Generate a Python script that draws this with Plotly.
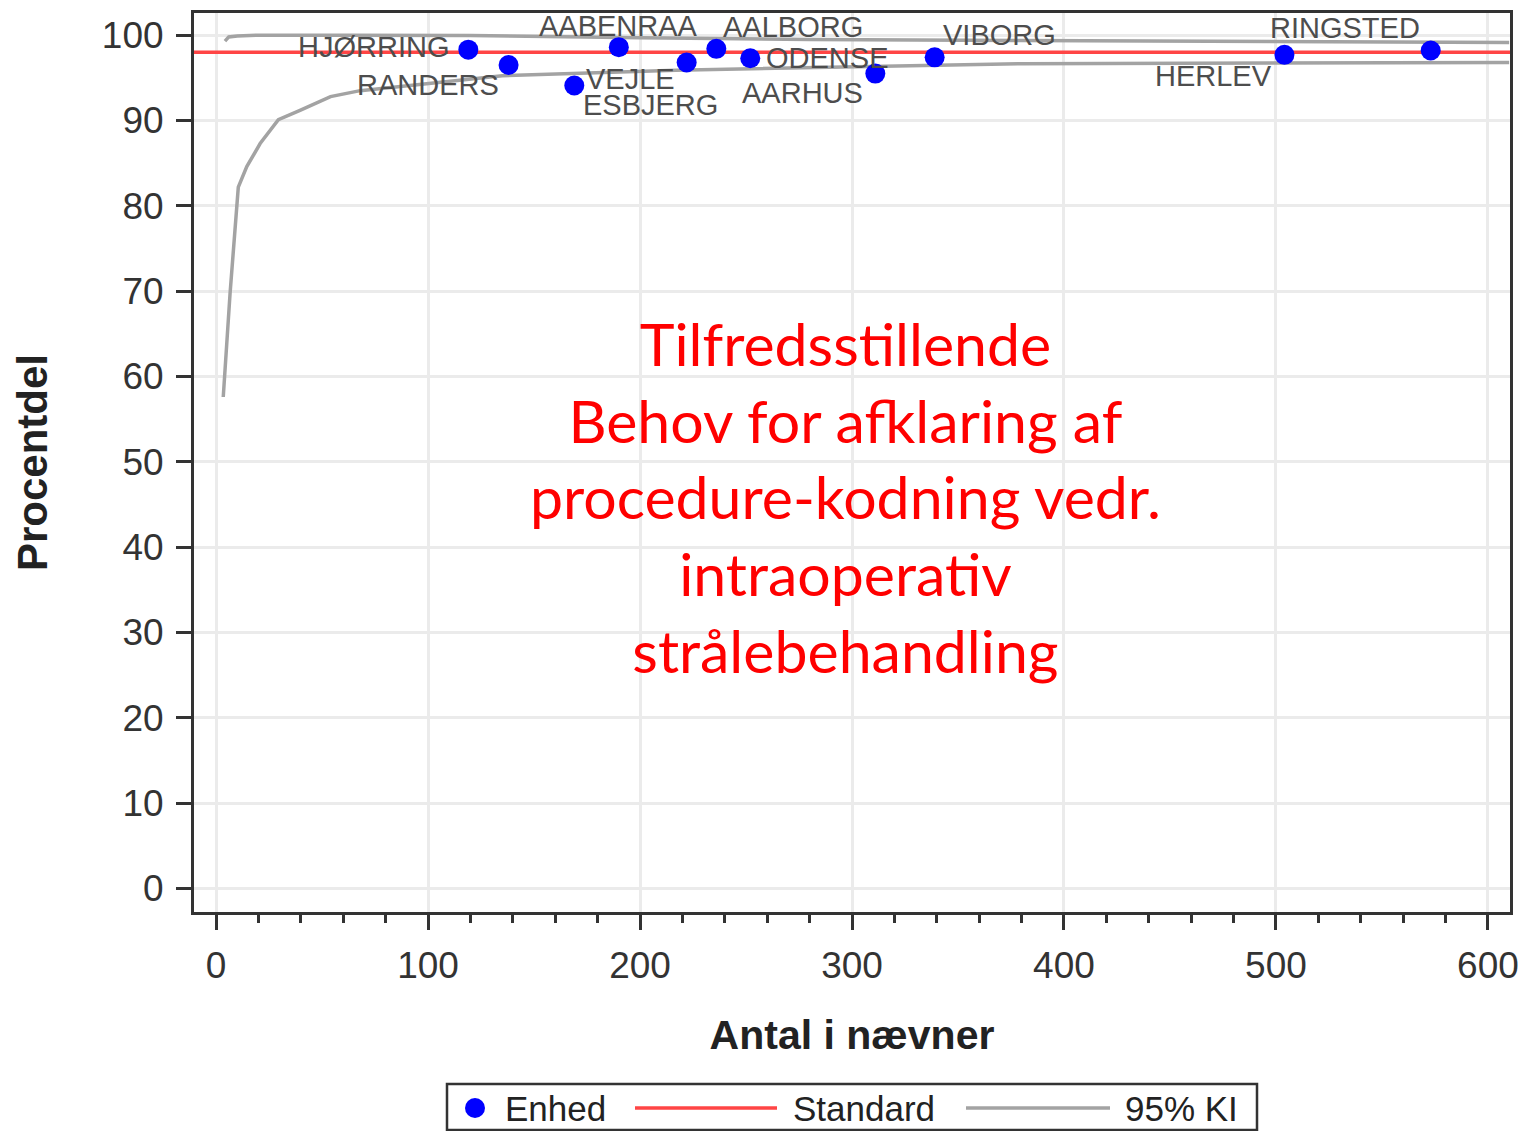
import plotly.graph_objects as go

# ---------------- data ----------------
units = ["HJØRRING", "RANDERS", "VEJLE", "AABENRAA", "ESBJERG", "AALBORG",
         "ODENSE", "AARHUS", "VIBORG", "HERLEV", "RINGSTED"]
antal = [119, 138, 169, 190, 222, 236, 252, 311, 339, 504, 573]
procent = [98.3, 96.5, 94.1, 98.6, 96.8, 98.4, 97.3, 95.5, 97.4, 97.7, 98.2]

standard = 98

ki_upper_n = [4.2, 6, 10, 20, 60, 120, 200, 280, 380, 480, 610]
ki_upper_pct = [99.3, 99.8, 99.9, 100.0, 100.0, 99.95, 99.7, 99.5, 99.37, 99.25, 99.13]

ki_lower_n = [3.4, 6.6, 10.5, 14.5, 20.8, 29.4, 39.6, 54, 68, 135, 217, 380, 610]
ki_lower_pct = [57.6, 69.7, 82.2, 84.6, 87.3, 90.1, 91.2, 92.8, 93.5, 95.25, 95.9, 96.65, 96.8]

x_ticks = [0, 100, 200, 300, 400, 500, 600]
y_ticks = [0, 10, 20, 30, 40, 50, 60, 70, 80, 90, 100]

legend_names = ["Enhed", "Standard", "95% KI"]
note_lines = ["Tilfredsstillende", "Behov for afklaring af",
              "procedure-kodning vedr.", "intraoperativ", "strålebehandling"]

# ---------------- styling ----------------
X_RANGE = [-10.4, 610.4]
Y_RANGE = [-2.75, 102.6]
BLUE = "#0000FF"
RED = "#FF4545"
GRAY = "#A3A3A3"
AXIS = "#333333"
FONT = "Liberation Sans, Arial, sans-serif"

# label offsets in pixels (dx right, dy up) relative to each dot
label_dx = [-95, -81, 56, 0, -36, 77, 77, -73, 65, -71, -86]
label_dy = [3, -20, 7, 21, -43, 22, 0, -19, 22, -21, 23]

fig = go.Figure()

fig.add_trace(go.Scatter(x=ki_upper_n, y=ki_upper_pct, mode="lines",
                         line=dict(color=GRAY, width=3.5), name=legend_names[2],
                         showlegend=False, hoverinfo="skip"))
fig.add_trace(go.Scatter(x=ki_lower_n, y=ki_lower_pct, mode="lines",
                         line=dict(color=GRAY, width=3.5), name=legend_names[2],
                         showlegend=False, hoverinfo="skip"))
fig.add_trace(go.Scatter(x=X_RANGE, y=[standard, standard], mode="lines",
                         line=dict(color=RED, width=3.5), name=legend_names[1],
                         showlegend=False))
fig.add_trace(go.Scatter(x=antal, y=procent, mode="markers",
                         marker=dict(color=BLUE, size=20, line=dict(width=0)),
                         name=legend_names[0], text=units, showlegend=False))

annotations = []
for name, n, p, dx, dy in zip(units, antal, procent, label_dx, label_dy):
    annotations.append(dict(x=n, y=p, xref="x", yref="y", text=name,
                            showarrow=False, xshift=dx, yshift=dy,
                            font=dict(family=FONT, size=29, color="#4d4d4d")))

# red note in the middle
annotations.append(dict(x=0.4947, y=0.4616, xref="paper", yref="paper",
                        text="<br>".join(note_lines), showarrow=False,
                        xanchor="center", yanchor="middle", align="center",
                        font=dict(family="Lato, Open Sans, sans-serif", size=59, color="#FF0000")))

# ---------------- manual legend (paper coordinates) ----------------
L, R_, T, B = 194, 1510, 13, 912
def px(xp):
    return (xp - L) / (R_ - L)
def py(yp):
    return (B - yp) / (B - T)

shapes = []
leg_y = py(1108)
shapes.append(dict(type="rect", xref="paper", yref="paper",
                   x0=px(447), x1=px(1257), y0=py(1084), y1=py(1130),
                   line=dict(color=AXIS, width=2.5), fillcolor="white", layer="above"))
shapes.append(dict(type="circle", xref="paper", yref="paper",
                   xsizemode="pixel", ysizemode="pixel",
                   xanchor=px(475), yanchor=leg_y, x0=-10, x1=10, y0=-10, y1=10,
                   fillcolor=BLUE, line=dict(width=0), layer="above"))
shapes.append(dict(type="line", xref="paper", yref="paper",
                   x0=px(635), x1=px(777), y0=leg_y, y1=leg_y,
                   line=dict(color=RED, width=3.5), layer="above"))
shapes.append(dict(type="line", xref="paper", yref="paper",
                   x0=px(966), x1=px(1110), y0=leg_y, y1=leg_y,
                   line=dict(color=GRAY, width=3.5), layer="above"))
for name, xl in zip(legend_names, [503, 791, 1123]):
    annotations.append(dict(x=px(xl), y=leg_y, xref="paper", yref="paper",
                            text=name, showarrow=False, xanchor="left", yanchor="middle",
                            font=dict(family=FONT, size=35, color="#222222")))

fig.update_layout(
    width=1524, height=1131,
    margin=dict(l=L, r=1524 - R_, t=T, b=1131 - B, autoexpand=False),
    paper_bgcolor="white", plot_bgcolor="white",
    showlegend=False,
    annotations=annotations,
    shapes=shapes,
    font=dict(family=FONT, color="#333333"),
)

fig.update_xaxes(
    range=X_RANGE, tickvals=x_ticks, ticktext=[str(v) for v in x_ticks],
    automargin=False,
    showgrid=True, gridcolor="#EBEBEB", gridwidth=2.5, zeroline=False,
    showline=True, linecolor=AXIS, linewidth=3, mirror=True,
    ticks="outside", ticklen=15, tickwidth=2.5, tickcolor=AXIS,
    minor=dict(dtick=20, tick0=0, ticks="outside", ticklen=8, tickwidth=2.5,
               tickcolor=AXIS, showgrid=False),
    tickfont=dict(family=FONT, size=37, color="#333333"),
    ticklabelstandoff=4,
    title=dict(text="<b>Antal i nævner</b>", standoff=35,
               font=dict(family=FONT, size=41, color="#222222")),
)
fig.update_yaxes(
    range=Y_RANGE, tickvals=y_ticks, ticktext=[str(v) for v in y_ticks],
    automargin=False,
    showgrid=True, gridcolor="#EBEBEB", gridwidth=2.5, zeroline=False,
    showline=True, linecolor=AXIS, linewidth=3, mirror=True,
    ticks="outside", ticklen=15, tickwidth=2.5, tickcolor=AXIS,
    tickfont=dict(family=FONT, size=37, color="#333333"),
    ticklabelstandoff=5,
    title=dict(text="<b>Procentdel</b>", standoff=42,
               font=dict(family=FONT, size=42, color="#222222")),
)

fig.write_html(
    "out.html",
    config={"displayModeBar": False},
    post_script="document.body.style.margin='0';document.body.style.overflow='hidden';",
)
